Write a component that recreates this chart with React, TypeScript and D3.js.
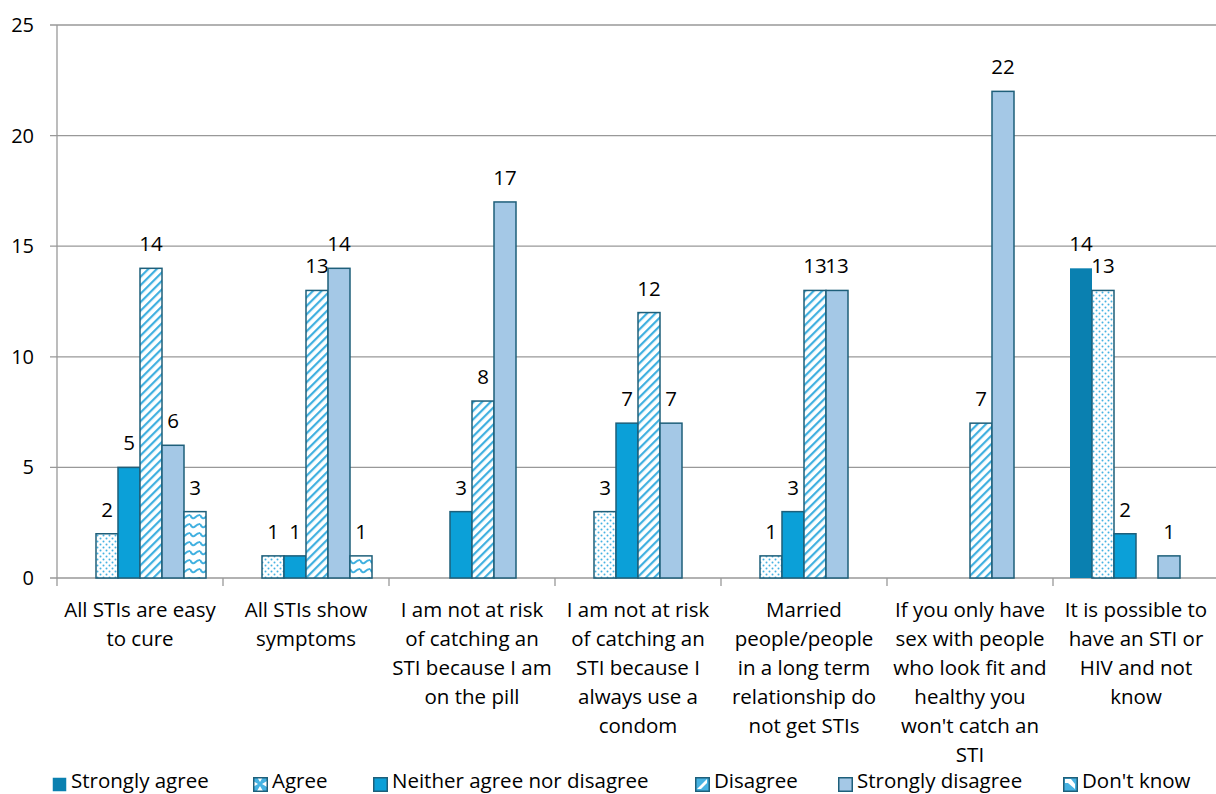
import React from "react";
import * as d3 from "d3";

const categories: string[][] = [
  ["All STIs are easy", "to cure"],
  ["All STIs show", "symptoms"],
  ["I am not at risk", "of catching an", "STI because I am", "on the pill"],
  ["I am not at risk", "of catching an", "STI because I", "always use a", "condom"],
  ["Married", "people/people", "in a long term", "relationship do", "not get STIs"],
  ["If you only have", "sex with people", "who look fit and", "healthy you", "won't catch an", "STI"],
  ["It is possible to", "have an STI or", "HIV and not", "know"],
];
const seriesNames = ["Strongly agree", "Agree", "Neither agree nor disagree", "Disagree", "Strongly disagree", "Don't know"];
const stronglyAgree = [0, 0, 0, 0, 0, 0, 14];
const agree = [2, 1, 0, 3, 1, 0, 13];
const neither = [5, 1, 3, 7, 3, 0, 2];
const disagree = [14, 13, 8, 12, 13, 7, 0];
const stronglyDisagree = [6, 14, 17, 7, 13, 22, 1];
const dontKnow = [3, 1, 0, 0, 0, 0, 0];
const yTicks = [0, 5, 10, 15, 20, 25];

const seriesValues = [stronglyAgree, agree, neither, disagree, stronglyDisagree, dontKnow];
const fills = ["#0a80b0", "url(#pDots)", "#0ba0d8", "url(#pDiag)", "#a4c8e6", "url(#pWave)"];
const legendFills = ["#0a80b0", "url(#lDots)", "#0ba0d8", "url(#lDiag)", "#a4c8e6", "url(#lWave)"];
const strokes = ["none", "#1e5f7a", "#1e5f7a", "#1e5f7a", "#1e5f7a", "#1e5f7a"];
const legendX = [52, 253, 373, 695, 838, 1063];

const FONT = "'Open Sans', sans-serif";

export default function App() {
  const left = 57, right = 1219, top = 25, bottom = 578;
  const x0 = d3.scaleBand<number>().domain(d3.range(categories.length)).range([left, right]).paddingInner(0).paddingOuter(0);
  const x1 = d3.scaleBand<number>().domain(d3.range(seriesNames.length)).range([17, x0.bandwidth() - 17]);
  const y = d3.scaleLinear().domain([0, 25]).range([bottom, top]);
  const ly = 777;

  return (
    <svg width={1216} height={794} style={{ position: "absolute", left: 0, top: 0 }} fontFamily={FONT}>
      <defs>
        <pattern id="pDots" width="6" height="6" patternUnits="userSpaceOnUse">
          <rect width="6" height="6" fill="#fff" />
          <circle cx="1.5" cy="1.5" r="1" fill="#45b2e2" />
          <circle cx="4.5" cy="4.5" r="1" fill="#45b2e2" />
        </pattern>
        <pattern id="pDiag" width="6" height="6" patternUnits="userSpaceOnUse" patternTransform="rotate(45)">
          <rect width="6" height="6" fill="#fff" />
          <rect x="0" y="0" width="2.2" height="6" fill="#40b0e0" />
        </pattern>
        <pattern id="pWave" width="10" height="9" patternUnits="userSpaceOnUse">
          <rect width="10" height="9" fill="#fff" />
          <path d="M0,2 Q2.5,7 5,4.5 Q7.5,2 10,2" fill="none" stroke="#40b0e0" strokeWidth="2" />
        </pattern>
        <pattern id="lDots" width="14" height="14" patternUnits="userSpaceOnUse" x="253" y={ly}>
          <rect width="14" height="14" fill="#fff" />
          <path d="M0,0 L4,0 L7,5 L10,0 L14,0 L14,4 L9,7 L14,10 L14,14 L10,14 L7,9 L4,14 L0,14 L0,10 L5,7 L0,4 Z" fill="#45b2e2" />
        </pattern>
        <pattern id="lDiag" width="14" height="14" patternUnits="userSpaceOnUse" x="695" y={ly}>
          <rect width="14" height="14" fill="#45b2e2" />
          <path d="M2,12 L12,2 L12,6 L6,12 Z" fill="#fff" />
        </pattern>
        <pattern id="lWave" width="14" height="14" patternUnits="userSpaceOnUse" x="1063" y={ly}>
          <rect width="14" height="14" fill="#45b2e2" />
          <path d="M2,2 L8,2 L12,7 L12,12 L5,6 L2,6 Z" fill="#fff" />
        </pattern>
      </defs>
      <rect width={1216} height={794} fill="#fff" />
      {yTicks.map((t) => (
        <g key={t}>
          <line x1={50} x2={right} y1={y(t)} y2={y(t)} stroke="#999" strokeWidth={1.3} />
          <text x={34} y={y(t) + 7} textAnchor="end" fontSize={20} fill="#000">{t}</text>
        </g>
      ))}
      <line x1={left} x2={left} y1={top} y2={bottom} stroke="#999" strokeWidth={1.3} />
      {d3.range(categories.length + 1).map((i) => {
        const xx = left + i * x0.bandwidth();
        return <line key={i} x1={xx} x2={xx} y1={bottom} y2={bottom + 8} stroke="#999" strokeWidth={1.3} />;
      })}
      {categories.map((lines, ci) => (
        <g key={ci}>
          {seriesValues.map((vals, si) => {
            const v = vals[ci];
            if (!v) return null;
            const bx = (x0(ci) as number) + (x1(si) as number);
            const bw = x1.bandwidth();
            return (
              <g key={si}>
                <rect x={bx} y={y(v)} width={bw} height={bottom - y(v)} fill={fills[si]}
                  stroke={strokes[si]} strokeWidth={1.5} />
                <text x={bx + bw / 2} y={y(v) - 17} textAnchor="middle" fontSize={20.5} fill="#000">{v}</text>
              </g>
            );
          })}
          {lines.map((ln, li) => (
            <text key={li} x={(x0(ci) as number) + x0.bandwidth() / 2} y={617 + li * 29}
              textAnchor="middle" fontSize={20.5} fill="#000">{ln}</text>
          ))}
        </g>
      ))}
      {seriesNames.map((name, si) => (
        <g key={si}>
          <rect x={legendX[si] + 0.75} y={ly + 0.75} width={13.5} height={13.5} fill={legendFills[si]}
            stroke={strokes[si]} strokeWidth={1.5} />
          <text x={legendX[si] + 19} y={788} fontSize={20.5} fill="#000">{name}</text>
        </g>
      ))}
    </svg>
  );
}
